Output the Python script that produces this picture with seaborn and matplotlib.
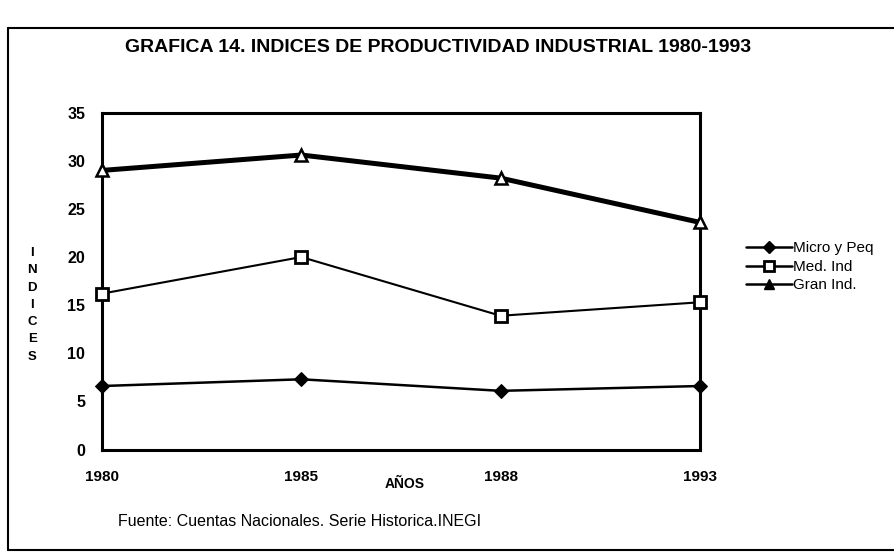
import pandas as pd
import seaborn as sns
import matplotlib.pyplot as plt
from matplotlib.lines import Line2D

# data
years = ['1980', '1985', '1988', '1993']
micro_y_peq = [6.6, 7.3, 6.1, 6.6]
med_ind = [16.2, 20.0, 13.9, 15.3]
gran_ind = [29.0, 30.6, 28.2, 23.6]

sns.set_style('white')
plt.rcParams['font.family'] = ['Liberation Sans', 'DejaVu Sans']
plt.rcParams['text.color'] = 'black'
plt.rcParams['xtick.color'] = 'black'
plt.rcParams['ytick.color'] = 'black'

fig = plt.figure(figsize=(8.95, 5.55), dpi=100)
ax = fig.add_axes([0.114, 0.19, 0.668, 0.607])

pos = list(range(len(years)))

# Gran Ind. - thick line, hollow triangles
sns.lineplot(x=pos, y=gran_ind, ax=ax, color='black', lw=3.6,
             marker='^', markersize=8, markerfacecolor='white',
             markeredgecolor='black', markeredgewidth=1.8, clip_on=False, zorder=4)
# Med. Ind - thin line, hollow squares
sns.lineplot(x=pos, y=med_ind, ax=ax, color='black', lw=1.5,
             marker='s', markersize=8, markerfacecolor='white',
             markeredgecolor='black', markeredgewidth=2, clip_on=False, zorder=4)
# Micro y Peq - black diamonds
sns.lineplot(x=pos, y=micro_y_peq, ax=ax, color='black', lw=1.8,
             marker='D', markersize=7, markerfacecolor='black',
             markeredgecolor='black', clip_on=False, zorder=4)

ax.set_xlim(0, 3)
ax.set_ylim(0, 35)
ax.set_yticks(range(0, 36, 5))
ax.set_xticks(pos)
ax.set_xticklabels(years, fontsize=11, fontweight='bold')
for lab in ax.get_yticklabels():
    lab.set_fontsize(11.5)
    lab.set_fontweight('bold')
ax.tick_params(axis='both', length=0)
ax.tick_params(axis='x', pad=15)
ax.tick_params(axis='y', pad=12)
for s in ax.spines.values():
    s.set_color('black')
    s.set_linewidth(2.2)
ax.set_xlabel('')
ax.set_ylabel('')

# legend
handles = [
    Line2D([], [], color='black', lw=1.8, marker='D', markersize=6, mfc='black'),
    Line2D([], [], color='black', lw=1.8, marker='s', markersize=7, mfc='white', mew=2),
    Line2D([], [], color='black', lw=1.8, marker='^', markersize=7, mfc='black'),
]
fig.legend(handles, ['Micro y Peq', 'Med. Ind', 'Gran Ind.'],
           loc='upper left', bbox_to_anchor=(0.818, 0.59), frameon=False,
           fontsize=11, handlelength=3.0, handletextpad=0.1, labelspacing=0.3)

# texts
fig.text(0.49, 0.915, 'GRAFICA 14. INDICES DE PRODUCTIVIDAD INDUSTRIAL 1980-1993',
         ha='center', va='center', fontsize=14, fontweight='bold')
fig.text(0.452, 0.128, 'AÑOS', ha='center', va='center', fontsize=10, fontweight='bold')
fig.text(0.132, 0.06, 'Fuente: Cuentas Nacionales. Serie Historica.INEGI',
         ha='left', va='center', fontsize=11.5)
for i, ch in enumerate('INDICES'):
    fig.text(0.036, 1 - (253 + i * 17.3) / 555, ch, ha='center', va='center',
             fontsize=9.5, fontweight='bold')

# outer frame (left, top, bottom)
fig.add_artist(Line2D([8 / 895, 8 / 895], [1 - 28 / 555, 1 - 550 / 555],
                      transform=fig.transFigure, color='black', lw=1.5))
fig.add_artist(Line2D([8 / 895, 1.0], [1 - 28 / 555, 1 - 28 / 555],
                      transform=fig.transFigure, color='black', lw=1.5))
fig.add_artist(Line2D([8 / 895, 1.0], [1 - 550 / 555, 1 - 550 / 555],
                      transform=fig.transFigure, color='black', lw=1.5))

fig.savefig('out.png', dpi=100)
